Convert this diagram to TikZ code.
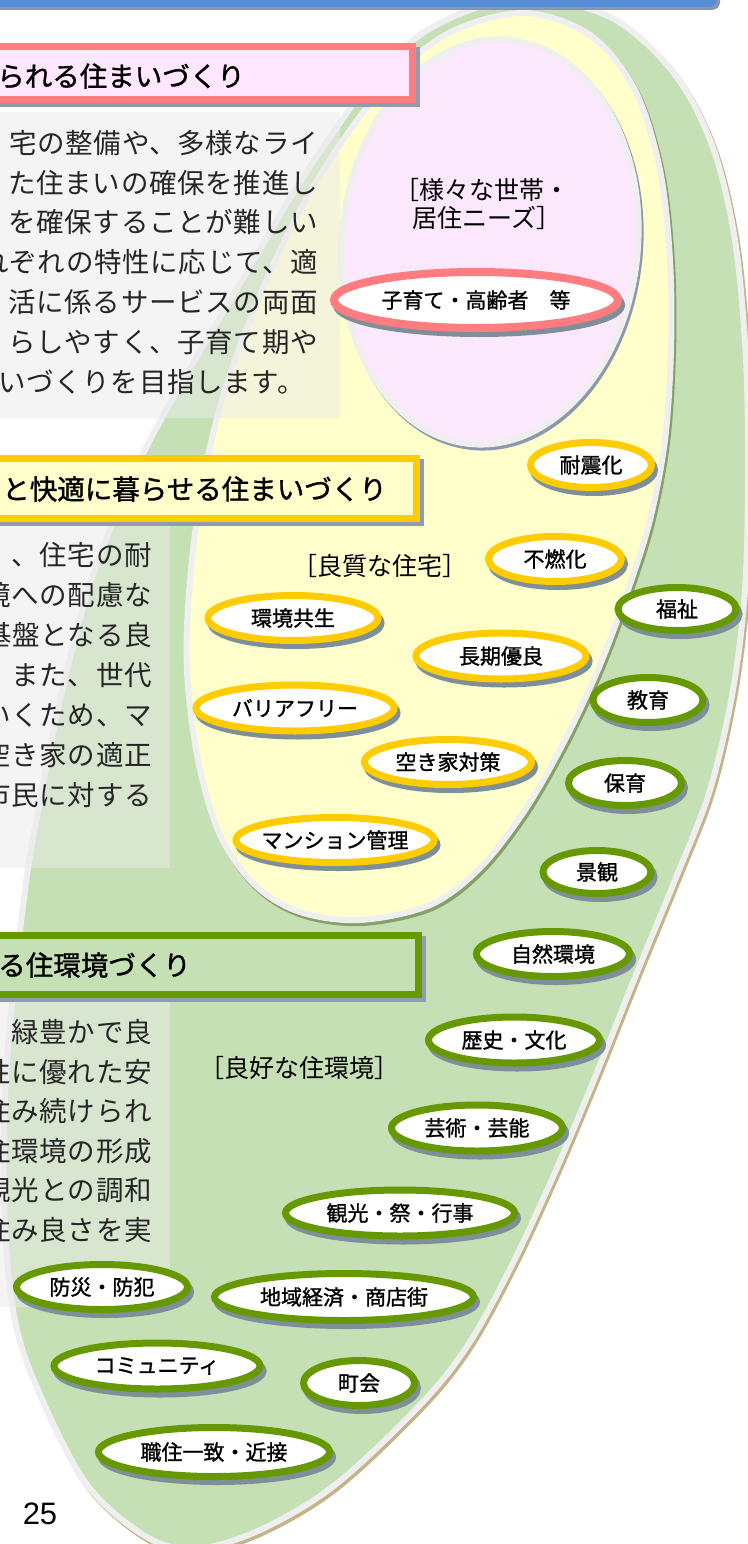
\documentclass[tikz,border=0pt]{standalone}
\usepackage{fontspec}
\setmainfont{Noto Sans CJK JP}
\newfontfamily\bodyfont[LetterSpace=2.5]{Noto Sans CJK JP}
\newfontfamily\labfont[FakeBold=1.2]{Noto Sans CJK JP}
\newfontfamily\numfont{Liberation Sans}
\usetikzlibrary{shapes.geometric}
\definecolor{barblue}{HTML}{558ED5}
\definecolor{barshadow}{HTML}{8896AA}
\definecolor{rim}{HTML}{EFEFEF}
\definecolor{grnfill}{HTML}{C5E0B4}
\definecolor{yelfill}{HTML}{FFFFCC}
\definecolor{pinkfill}{HTML}{FCE8FC}
\definecolor{pinktitle}{HTML}{FFE7FF}
\definecolor{pinkb}{HTML}{FF7C80}
\definecolor{gold}{HTML}{FFCC00}
\definecolor{olive}{HTML}{669900}
\definecolor{tanline}{HTML}{C4B48A}
\definecolor{yshadow}{HTML}{86A06A}
\definecolor{pshadow}{HTML}{8E98AA}
\definecolor{pillsh}{HTML}{7F8F9A}
\definecolor{boxsh}{HTML}{8E9CB0}
\definecolor{bodytext}{HTML}{262626}
\newcommand\outerpts{plot[smooth cycle,tension=0.55] coordinates {(530,-3) (612,18) (673,72) (712,145) (735,240) (746,360) (748,480) (745,590) (733,690) (710,790) (675,880) (638,970) (598,1070) (556,1170) (512,1265) (468,1345) (420,1405) (335,1485) (260,1530) (195,1549) (145,1536) (85,1482) (35,1383) (13,1310) (4,1200) (7,1060) (25,890) (40,800) (60,700) (88,590) (118,510) (150,440) (195,360) (245,275) (295,190) (335,130) (375,75) (420,35) (470,10)}}
\newcommand\yelpts{plot[smooth cycle,tension=0.55] coordinates {(525,13) (590,35) (635,90) (660,170) (670,260) (671,350) (665,440) (650,520) (628,590) (600,665) (565,740) (525,810) (480,868) (430,905) (360,920) (300,912) (255,885) (220,835) (198,760) (187,670) (190,580) (203,480) (225,390) (258,300) (300,210) (350,130) (400,70) (455,30)}}
\newcommand\pill[7]{%
  \node[pillshadow, minimum width=#4pt, minimum height=#5pt] (#1s) at (#2+3,#3+5) {};
  \node[pillbox, draw=#6, minimum width=#4pt, minimum height=#5pt] (#1) at (#2,#3) {\makebox[0pt]{#7}};}
\begin{document}
\begin{tikzpicture}[x=1pt,y=-1pt,
  pillbox/.style={ellipse, fill=white, line width=7pt, inner sep=0pt, font=\labfont\fontsize{21}{24}\selectfont, text=black},
  pillshadow/.style={ellipse, fill=pillsh, draw=pillsh, line width=7pt, inner sep=0pt},
  bodyline/.style={anchor=east, inner sep=0pt, font=\bodyfont\fontsize{27.5}{30}\selectfont, text=bodytext},
  titletext/.style={anchor=east, inner sep=0pt, font=\labfont\fontsize{27.5}{30}\selectfont, text=black},
  brk/.style={inner sep=0pt, font=\fontsize{25}{28}\selectfont, text=black},
  textbox/.style={fill=white!92!black, opacity=0.5}]
\useasboundingbox (0,0) rectangle (747,1544);
\fill[white] (0,0) rectangle (747,1544);
% nested shapes
\draw[tanline, line width=6pt, shift={(2,3)}] \outerpts;
\draw[fill=grnfill, draw=rim, line width=6pt] \outerpts;
\draw[yshadow, line width=6pt, shift={(2,3)}] \yelpts;
\draw[fill=yelfill, draw=rim, line width=6pt] \yelpts;
\draw[pshadow, line width=6pt, rotate around={-5.6:(492,245)}] (492,245) ellipse [x radius=148pt, y radius=203pt];
\draw[fill=pinkfill, draw=rim, line width=6pt, rotate around={-5.6:(490,242)}] (490,242) ellipse [x radius=148pt, y radius=203pt];
% text boxes
\fill[textbox] (0,112) rectangle (340,418);
\fill[textbox] (0,525) rectangle (170,868);
\fill[textbox] (0,1000) rectangle (170,1307);
% body text 1
\node[bodyline] (a1) at (318,143) {宅の整備や、多様なライ};
\node[bodyline] (a2) at (318,183) {た住まいの確保を推進し};
\node[bodyline] (a3) at (318,222) {を確保することが難しい};
\node[bodyline] (a4) at (318,262) {れぞれの特性に応じて、適};
\node[bodyline] (a5) at (318,302) {活に係るサービスの両面};
\node[bodyline] (a6) at (318,342) {らしやすく、子育て期や};
\node[bodyline] (a7) at (305,382) {いづくりを目指します。};
% body text 2
\node[bodyline] (b1) at (152,555) {、住宅の耐};
\node[bodyline] (b2) at (152,595) {境への配慮な};
\node[bodyline] (b3) at (152,635) {基盤となる良};
\node[bodyline] (b4) at (152,675) {。また、世代};
\node[bodyline] (b5) at (152,715) {いくため、マ};
\node[bodyline] (b6) at (152,755) {空き家の適正};
\node[bodyline] (b7) at (152,795) {市民に対する};
% body text 3
\node[bodyline] (c1) at (152,1032) {、緑豊かで良};
\node[bodyline] (c2) at (152,1072) {性に優れた安};
\node[bodyline] (c3) at (152,1111) {住み続けられ};
\node[bodyline] (c4) at (152,1151) {住環境の形成};
\node[bodyline] (c5) at (152,1190) {観光との調和};
\node[bodyline] (c6) at (152,1230) {住み良さを実};
% title boxes
\fill[boxsh] (-6,47) rectangle (420,107);
\draw[fill=pinktitle, draw=pinkb, line width=7pt] (-6.5,46.5) rectangle (412.5,99.5);
\node[titletext] (t1) at (245,76) {られる住まいづくり};
\fill[boxsh] (-6,459) rectangle (424,526);
\draw[fill=yelfill, draw=gold, line width=7pt] (-6.5,458.5) rectangle (416.5,518.5);
\node[titletext] (t2) at (387,489) {と快適に暮らせる住まいづくり};
\fill[boxsh] (-6,936) rectangle (426,1002);
\draw[fill=grnfill, draw=olive, line width=7pt] (-6.5,935.5) rectangle (418.5,994.5);
\node[titletext] (t3) at (191,965) {る住環境づくり};
% blue bar
\fill[barshadow, rounded corners=8pt] (-10,-20) rectangle (720,10);
\fill[barblue, rounded corners=8pt] (-10,-20) rectangle (717,7);
% bracket labels
\node[brk, align=center] (needs) at (482,204) {［様々な世帯・\\\hspace*{10pt}居住ニーズ］};
\node[brk] (quality) at (380,566) {［良質な住宅］};
\node[brk] (envlab) at (299,1068) {［良好な住環境］};
% pink pill
\node[pillshadow, line width=8pt, minimum width=284pt, minimum height=56pt] (kos) at (479,305) {};
\node[pillbox, draw=pinkb, line width=8pt, minimum width=284pt, minimum height=56pt] (ko) at (476,300) {\makebox[0pt]{子育て・高齢者　等}};
% yellow pills
\pill{taishin}{591}{465}{121}{45}{gold}{耐震化}
\pill{funen}{555}{559}{133}{45}{gold}{不燃化}
\pill{kankyo}{293}{618}{170}{45}{gold}{環境共生}
\pill{choki}{501}{656}{170}{46}{gold}{長期優良}
\pill{barrier}{295}{708}{198}{46}{gold}{バリアフリー}
\pill{akiya}{448}{762}{167}{45}{gold}{空き家対策}
\pill{mansion}{335}{840}{198}{45}{gold}{マンション管理}
% green pills
\pill{fukushi}{677}{609}{118}{43}{olive}{福祉}
\pill{kyoiku}{648}{700}{110}{45}{olive}{教育}
\pill{hoiku}{625}{783}{113}{45}{olive}{保育}
\pill{keikan}{597}{872}{108}{43}{olive}{景観}
\pill{shizen}{553}{954}{153}{45}{olive}{自然環境}
\pill{rekishi}{514}{1040}{171}{46}{olive}{歴史・文化}
\pill{geijutsu}{477}{1128}{171}{46}{olive}{芸術・芸能}
\pill{kanko}{400}{1213}{229}{46}{olive}{観光・祭・行事}
\pill{bosai}{102}{1287}{171}{45}{olive}{防災・防犯}
\pill{chiiki}{344}{1297}{259}{47}{olive}{地域経済・商店街}
\pill{komyu}{157}{1366}{206}{46}{olive}{コミュニティ}
\pill{chokai}{359}{1383}{111}{45}{olive}{町会}
\pill{shokuju}{214}{1452}{231}{49}{olive}{職住一致・近接}
% page number
\node[inner sep=0pt, font=\numfont\fontsize{31}{34}\selectfont, text=black] (pageno) at (40,1514) {25};
\end{tikzpicture}
\end{document}
